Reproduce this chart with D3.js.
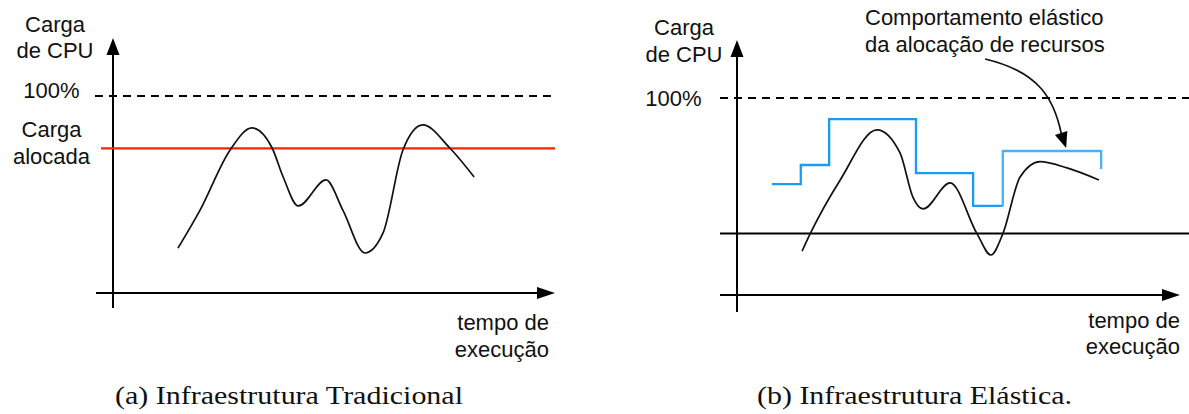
<!doctype html>
<html>
<head>
<meta charset="utf-8">
<script src="https://cdn.jsdelivr.net/npm/d3@7"></script>
<style>
  body { margin: 0; background: #fff; }
  text { font-family: "Liberation Sans", Arial, sans-serif; font-size: 22px; fill: #111; }
  text.caption { font-family: "Liberation Serif", "Times New Roman", serif; font-size: 26px; }
</style>
</head>
<body>
<svg id="chart" width="1189" height="414"></svg>
<script>
// time in % of the execution window, load in % of CPU
const timeA = [14.7, 19.7, 26.5, 31.4, 36.0, 38.5, 41.9, 48.2, 52.0, 57.0, 61.1, 65.6, 70.1, 76.2, 81.7];
const loadA = [22.8, 42.1, 72.6, 83.8, 73.6, 58.9, 44.2, 57.4, 42.1, 20.3, 30.5, 72.6, 85.3, 73.6, 58.9];
const allocatedA = 73.4;

const timeB = [14.7, 16.5, 23.3, 31.6, 36.8, 39.7, 42.0, 48.1, 54.2, 57.3, 60.0, 63.9, 68.4, 74.5, 81.7];
const loadB = [22.3, 31.0, 58.4, 83.8, 72.1, 49.7, 43.7, 56.9, 31.0, 20.3, 31.0, 59.9, 67.7, 64.5, 58.4];
const stepTime = [7.9, 14.4, 20.8, 40.4, 53.3, 60.0, 82.2, 82.2];
const stepLoad = [56.3, 66.0, 89.3, 61.9, 45.2, 73.1, 73.1, 64.0];
const floorB = 31.2;
const maxLoad = 100;

const svg = d3.select("#chart");

const xA = d3.scaleLinear([0, 100], [113, 555]);
const yA = d3.scaleLinear([0, 100], [293, 96]);
const xB = d3.scaleLinear([0, 100], [737, 1180]);
const yB = d3.scaleLinear([0, 100], [295, 98]);

function axes(x, y, left, bottom) {
  const x0 = x(0), y0 = y(0);
  const [, xEnd] = x.range();
  const yTop = y(0) - (y(0) - y(100)) * 1.295;
  svg.append("line").attr("x1", x0).attr("x2", x0).attr("y1", bottom).attr("y2", yTop + 10)
      .attr("stroke", "#000").attr("stroke-width", 2);
  svg.append("path").attr("d", `M${x0},${yTop}L${x0 - 6.5},${yTop + 17}L${x0 + 6.5},${yTop + 17}Z`).attr("fill", "#000");
  svg.append("line").attr("x1", left).attr("x2", xEnd - 10).attr("y1", y0).attr("y2", y0)
      .attr("stroke", "#000").attr("stroke-width", 2);
  svg.append("path").attr("d", `M${xEnd},${y0}L${xEnd - 18},${y0 - 6}L${xEnd - 18},${y0 + 6}Z`).attr("fill", "#000");
}

function hline(y, v, x1, x2, color, dash, w) {
  svg.append("line").attr("x1", x1).attr("x2", x2).attr("y1", y(v)).attr("y2", y(v))
      .attr("stroke", color).attr("stroke-width", w).attr("stroke-dasharray", dash);
}

function lines(x, y, cx, parts, baselines, anchor) {
  const t = svg.append("text").attr("text-anchor", anchor || "middle");
  parts.forEach((p, i) => t.append("tspan").attr("x", cx).attr("y", baselines[i]).text(p));
}

// ---- (a) traditional
axes(xA, yA, 96, 308);
hline(yA, maxLoad, 95, 555, "#000", "8,6", 1.8);
hline(yA, allocatedA, 101, 555, "#ff2200", null, 2.2);

const curve = (x, y) => d3.line().x(d => x(d[0])).y(d => y(d[1])).curve(d3.curveMonotoneX);
svg.append("path").datum(d3.zip(timeA, loadA)).attr("d", curve(xA, yA))
    .attr("fill", "none").attr("stroke", "#111").attr("stroke-width", 1.7);

lines(xA, yA, 55, ["Carga", "de CPU"], [32, 58]);
lines(xA, yA, 51.5, ["100%"], [98]);
lines(xA, yA, 51.5, ["Carga", "alocada"], [137, 164]);
lines(xA, yA, 549, ["tempo de", "execução"], [330, 357], "end");

svg.append("text").attr("class", "caption").attr("x", 289).attr("y", 404).attr("text-anchor", "middle")
    .attr("textLength", 348).attr("lengthAdjust", "spacingAndGlyphs").text("(a) Infraestrutura Tradicional");

// ---- (b) elastic
axes(xB, yB, 720, 312);
hline(yB, maxLoad, 720, 1189, "#000", "8,6", 1.8);
hline(yB, floorB, 720, 1189, "#000", null, 2);

const steps = d3.zip(stepTime, stepLoad);
const step = d3.line().x(d => xB(d[0])).y(d => yB(d[1])).curve(d3.curveStepAfter);
svg.append("path").datum(steps.slice(0, 5).concat([[stepTime[5], stepLoad[4]]])).attr("d", step)
    .attr("fill", "none").attr("stroke", "#1a9bf5").attr("stroke-width", 2.3);
svg.append("path").datum([[stepTime[5], stepLoad[4]]].concat(steps.slice(5))).attr("d", step)
    .attr("fill", "none").attr("stroke", "#4ab0fa").attr("stroke-width", 2.3);

svg.append("path").datum(d3.zip(timeB, loadB)).attr("d", curve(xB, yB))
    .attr("fill", "none").attr("stroke", "#111").attr("stroke-width", 1.7);

lines(xB, yB, 684, ["Carga", "de CPU"], [35, 62]);
lines(xB, yB, 673.5, ["100%"], [106]);
lines(xB, yB, 1180, ["tempo de", "execução"], [328, 354], "end");
lines(xB, yB, 865, ["Comportamento elástico", "da alocação de recursos"], [25, 52], "start");

// annotation arrow: from under the note to the top of the last allocation step
const sx = xB(56), sy = yB(119.8);
const tx = xB(74.3), ty = yB(stepLoad[5]) - 3;
const bx = tx - 5, by = ty - 15;
svg.append("path")
    .attr("d", `M${sx},${sy}C${sx + 55},${sy + 13} ${bx - 7},${by - 33} ${bx},${by}`)
    .attr("fill", "none").attr("stroke", "#111").attr("stroke-width", 1.7);
const ang = Math.atan2(ty - by, tx - bx), hw = 6.5;
svg.append("path")
    .attr("d", `M${tx},${ty}L${bx - hw * Math.sin(ang)},${by + hw * Math.cos(ang)}L${bx + hw * Math.sin(ang)},${by - hw * Math.cos(ang)}Z`)
    .attr("fill", "#000");

svg.append("text").attr("class", "caption").attr("x", 914.5).attr("y", 404).attr("text-anchor", "middle")
    .attr("textLength", 315).attr("lengthAdjust", "spacingAndGlyphs").text("(b) Infraestrutura Elástica.");
</script>
</body>
</html>
